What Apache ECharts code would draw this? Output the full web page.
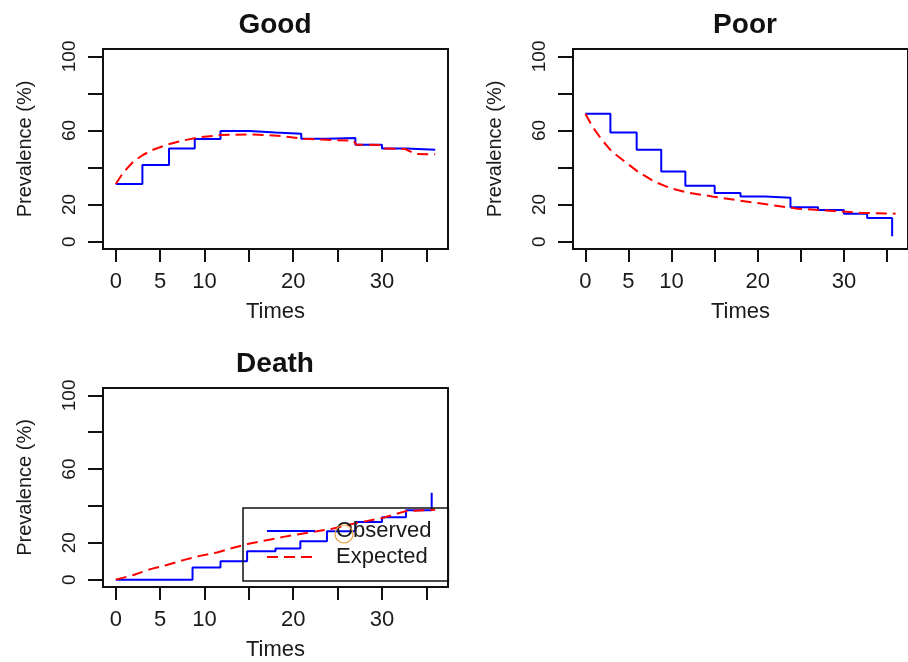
<!DOCTYPE html>
<html>
<head>
<meta charset="utf-8">
<title>Prevalence</title>
<script src="https://cdn.jsdelivr.net/npm/echarts@6/dist/echarts.min.js"></script>
<style>
  html, body { margin: 0; padding: 0; background: #fff; }
  #chart { width: 908px; height: 662px; }
</style>
</head>
<body>
<div id="chart"></div>
<script>
  // values (time, prevalence %)
  var goodObsTime = [0, 3.0, 6.0, 8.9, 11.8, 15.1, 18.0, 20.9, 23.8, 27.0, 30.0, 32.7, 36]
  var goodObsValue = [31.1, 41.3, 50.3, 55.4, 59.7, 58.9, 58.2, 55.5, 55.9, 52.3, 50.3, 49.6, 49.6]
  var goodExpTime = [0, 0.86, 2.0, 3.1, 4.2, 5.75, 7.6, 9.5, 11.8, 14.8, 18.2, 21.2, 24.5, 26.8, 27.1, 29.8, 30.1, 32.6, 33.8, 36]
  var goodExpValue = [31.1, 37.4, 43.3, 46.9, 49.6, 52.3, 54.6, 56.4, 57.5, 57.9, 57.2, 55.5, 54.8, 54.5, 52.3, 52.2, 50.3, 50.0, 47.3, 47.1]

  var poorObsTime = [0, 2.9, 5.95, 8.8, 11.6, 15.0, 18.0, 20.9, 23.8, 27.0, 30.0, 32.7, 35.6]
  var poorObsValue = [69.0, 58.9, 49.6, 37.9, 30.2, 26.2, 24.4, 23.7, 18.5, 17.1, 15.1, 12.8, 2.9]
  var poorExpTime = [0, 0.8, 1.9, 3.05, 4.55, 6.05, 7.95, 9.85, 11.7, 14.7, 17.7, 20.8, 24.5, 28.3, 32.0, 36]
  var poorExpValue = [69.0, 62.2, 55.0, 48.7, 43.3, 37.9, 32.5, 28.9, 26.6, 24.4, 22.3, 20.3, 17.8, 16.7, 15.5, 15.1]

  var deathObsTime = [0, 8.65, 11.8, 14.8, 18.0, 20.8, 23.8, 27.0, 30.0, 32.7, 35.6]
  var deathObsValue = [0, 6.6, 10.0, 15.4, 16.9, 20.8, 26.2, 31.3, 33.8, 37.6, 47.1]
  var deathExpTime = [0, 2.0, 3.9, 5.75, 7.6, 9.5, 11.4, 13.25, 15.1, 17.0, 18.9, 20.8, 22.65, 24.5, 27.0, 30.0, 32.7, 36]
  var deathExpValue = [0, 2.5, 5.7, 7.9, 10.6, 12.9, 14.7, 17.3, 19.6, 21.4, 23.2, 24.8, 26.2, 27.7, 30.6, 33.4, 37.2, 37.9]

  var xTicks = [0, 5, 10, 15, 20, 25, 30, 35]
  var xTickLabels = [0, 5, 10, 20, 30]
  var yTicks = [0, 20, 40, 60, 80, 100]
  var yTickLabels = [0, 20, 60, 100]

  var FONT = 'Liberation Sans'
  var TEXT = '#1a1a1a'

  var panels = [
    { title: 'Good', left: 103, top: 49, height: 200, obsT: goodObsTime, obsV: goodObsValue, expT: goodExpTime, expV: goodExpValue },
    { title: 'Poor', left: 573, top: 49, height: 200, obsT: poorObsTime, obsV: poorObsValue, expT: poorExpTime, expV: poorExpValue },
    { title: 'Death', left: 103, top: 388, height: 201, obsT: deathObsTime, obsV: deathObsValue, expT: deathExpTime, expV: deathExpValue }
  ]

  function pairs(t, v) {
    return t.map(function (x, i) { return [x, v[i]] })
  }

  var titles = [], grids = [], xAxes = [], yAxes = [], series = []
  panels.forEach(function (p, i) {
    titles.push({
      text: p.title,
      left: p.left + 172,
      top: p.top - 38,
      textAlign: 'center',
      padding: 0,
      textStyle: { fontFamily: FONT, fontSize: 28, fontWeight: 'bold', color: '#111' }
    })
    grids.push({
      left: p.left, top: p.top, width: 345, height: p.height,
      show: true, borderColor: '#111', borderWidth: 2, backgroundColor: 'transparent'
    })
    xAxes.push({
      gridIndex: i, type: 'value', min: -1.44, max: 37.44,
      name: 'Times', nameLocation: 'middle', nameGap: 52,
      nameTextStyle: { fontFamily: FONT, fontSize: 22, color: TEXT },
      axisLine: { show: false, onZero: false },
      splitLine: { show: false },
      axisTick: { show: true, length: 13, customValues: xTicks, lineStyle: { color: '#111', width: 2 } },
      axisLabel: { customValues: xTickLabels, margin: 22, fontFamily: FONT, fontSize: 22, color: TEXT }
    })
    yAxes.push({
      gridIndex: i, type: 'value', min: -4, max: 104,
      name: 'Prevalence (%)', nameLocation: 'middle', nameGap: 68,
      nameTextStyle: { fontFamily: FONT, fontSize: 20, color: TEXT },
      axisLine: { show: false, onZero: false },
      splitLine: { show: false },
      axisTick: { show: true, length: 15, customValues: yTicks, lineStyle: { color: '#111', width: 2 } },
      axisLabel: { customValues: yTickLabels, rotate: 90, margin: 24, fontFamily: FONT, fontSize: 19, color: TEXT }
    })
    series.push({
      name: 'Observed', type: 'line', xAxisIndex: i, yAxisIndex: i,
      step: 'end', symbol: 'none', silent: true,
      data: pairs(p.obsT, p.obsV),
      lineStyle: { color: '#0000ff', width: 2 },
      itemStyle: { color: '#0000ff' }
    })
    series.push({
      name: 'Expected', type: 'line', xAxisIndex: i, yAxisIndex: i,
      symbol: 'none', silent: true,
      data: pairs(p.expT, p.expV),
      lineStyle: { color: '#ff0000', width: 2, type: [11, 6] },
      itemStyle: { color: '#ff0000' }
    })
  })

  var myChart = echarts.init(document.getElementById('chart'))
  var option = {
    animation: false,
    backgroundColor: '#fff',
    title: titles,
    grid: grids,
    xAxis: xAxes,
    yAxis: yAxes,
    legend: {
      data: ['Observed', 'Expected'],
      orient: 'vertical',
      left: 243,
      top: 508,
      padding: [12, 17, 13, 23],
      itemWidth: 48,
      itemHeight: 14,
      itemGap: 4,
      borderColor: '#111',
      borderWidth: 1.5,
      selectedMode: false,
      // legend keys are plain line segments, no point marker
      itemStyle: { color: 'rgba(0,0,0,0)', borderColor: 'rgba(0,0,0,0)', borderWidth: 0 },
      textStyle: { fontFamily: FONT, fontSize: 22, color: TEXT, lineHeight: 22, padding: [0, 0, 0, 16] }
    },
    // the little orange ring round the "O" of the legend text
    graphic: [{
      type: 'circle', shape: { cx: 344, cy: 534, r: 9 },
      style: { fill: 'none', stroke: '#f0a040', lineWidth: 1.2 }, z: 100
    }],
    series: series
  }
  option && myChart.setOption(option)
  window.addEventListener('resize', myChart.resize)
</script>
</body>
</html>
